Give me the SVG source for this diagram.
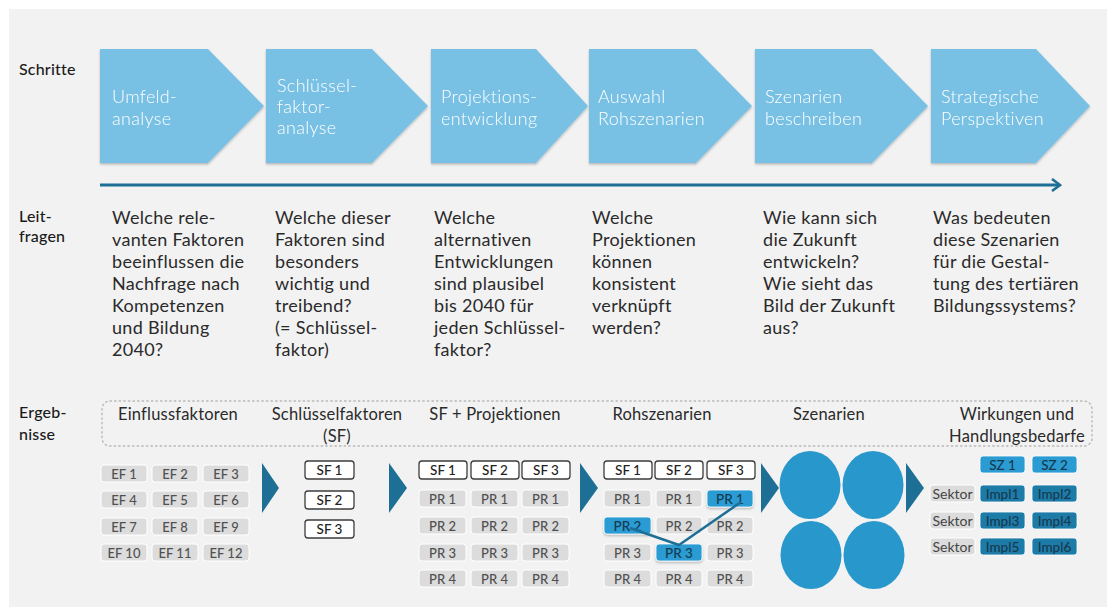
<svg xmlns="http://www.w3.org/2000/svg" width="1107" height="608" viewBox="0 0 1107 608">
<defs>
<style>
.lbl{font-family:Lato,"Noto Sans","DejaVu Sans",sans-serif;font-size:16px;fill:#1a1a1a;font-weight:500;letter-spacing:0.2px}
.chev{fill:#79c1e4}
.ct{font-family:Lato,"Noto Sans","DejaVu Sans",sans-serif;font-size:18px;fill:#ffffff;font-weight:300;letter-spacing:0.3px}
.q{font-family:Lato,"Noto Sans","DejaVu Sans",sans-serif;font-size:18px;fill:#2a2a2a;letter-spacing:0.3px}
.hd{font-family:Lato,"Noto Sans","DejaVu Sans",sans-serif;font-size:16.5px;fill:#2a2a2a;text-anchor:middle;letter-spacing:0.2px}
.g{fill:#dcdcdc;stroke:#ffffff;stroke-width:1}
.w{fill:#ffffff;stroke:#3c3c3c;stroke-width:1.3}
.b{fill:#2a9bd3;stroke:#ffffff;stroke-width:0.8}
.d{fill:#1d7ba8;stroke:#ffffff;stroke-width:0.8}
.bt{font-family:Lato,"Noto Sans","DejaVu Sans",sans-serif;font-size:13px;fill:#505050;text-anchor:middle;font-weight:500}
.wt{font-family:Lato,"Noto Sans","DejaVu Sans",sans-serif;font-size:13.5px;fill:#222222;text-anchor:middle;font-weight:500}
.st{font-family:Lato,"Noto Sans","DejaVu Sans",sans-serif;font-size:14px;fill:#444444;text-anchor:middle}
.dt{font-family:Lato,"Noto Sans","DejaVu Sans",sans-serif;font-size:13.5px;fill:#163a4e;text-anchor:middle;font-weight:500}
.tri{fill:#1e6f95}
.circ{fill:#2897cc}
</style>
<filter id="sh" x="-10%" y="-10%" width="130%" height="140%">
<feDropShadow dx="0" dy="1.5" stdDeviation="1.2" flood-color="#000" flood-opacity="0.25"/>
</filter>
<marker id="ah" markerWidth="12" markerHeight="14" refX="10" refY="7" orient="auto" markerUnits="userSpaceOnUse">
<path d="M2,1 L10,7 L2,13" fill="none" stroke="#1e6f95" stroke-width="2.6"/>
</marker>
</defs>

<rect x="0" y="0" width="1107" height="608" fill="#ffffff"/>
<rect x="9" y="9" width="1098" height="598" fill="#f2f2f2"/>

<g id="labels">
<text class="lbl" x="19" y="75">Schritte</text>
<text class="lbl" x="19" y="222">Leit-</text>
<text class="lbl" x="19" y="242">fragen</text>
<text class="lbl" x="19" y="418">Ergeb-</text>
<text class="lbl" x="19" y="440">nisse</text>
</g>

<g id="steps" filter="url(#sh)">
<g id="step1"><polygon class="chev" points="100,49 208,49 264,106 208,163 100,163"/>
<text class="ct" x="112" y="103">Umfeld-</text><text class="ct" x="112" y="125">analyse</text></g>
<g id="step2"><polygon class="chev" points="266,49 372,49 428,106 372,163 266,163"/>
<text class="ct" x="277" y="92">Schlüssel-</text><text class="ct" x="277" y="113">faktor-</text><text class="ct" x="277" y="134">analyse</text></g>
<g id="step3"><polygon class="chev" points="431,49 536,49 588,106 536,163 431,163"/>
<text class="ct" x="441" y="103">Projektions-</text><text class="ct" x="441" y="125">entwicklung</text></g>
<g id="step4"><polygon class="chev" points="589,49 696,49 752,106 696,163 589,163"/>
<text class="ct" x="598" y="103">Auswahl</text><text class="ct" x="598" y="125">Rohszenarien</text></g>
<g id="step5"><polygon class="chev" points="755,49 872,49 928,106 872,163 755,163"/>
<text class="ct" x="765" y="103">Szenarien</text><text class="ct" x="765" y="125">beschreiben</text></g>
<g id="step6"><polygon class="chev" points="931,49 1036,49 1090,106 1036,163 931,163"/>
<text class="ct" x="941" y="103">Strategische</text><text class="ct" x="941" y="125">Perspektiven</text></g>
</g>

<g id="questions">
<text class="q" x="112" y="224">Welche rele-</text>
<text class="q" x="112" y="246">vanten Faktoren</text>
<text class="q" x="112" y="268">beeinflussen die</text>
<text class="q" x="112" y="290">Nachfrage nach</text>
<text class="q" x="112" y="312">Kompetenzen</text>
<text class="q" x="112" y="334">und Bildung</text>
<text class="q" x="112" y="356">2040?</text>

<text class="q" x="275" y="224">Welche dieser</text>
<text class="q" x="275" y="246">Faktoren sind</text>
<text class="q" x="275" y="268">besonders</text>
<text class="q" x="275" y="290">wichtig und</text>
<text class="q" x="275" y="312">treibend?</text>
<text class="q" x="275" y="334">(= Schlüssel-</text>
<text class="q" x="275" y="356">faktor)</text>

<text class="q" x="434" y="224">Welche</text>
<text class="q" x="434" y="246">alternativen</text>
<text class="q" x="434" y="268">Entwicklungen</text>
<text class="q" x="434" y="290">sind plausibel</text>
<text class="q" x="434" y="312">bis 2040 für</text>
<text class="q" x="434" y="334">jeden Schlüssel-</text>
<text class="q" x="434" y="356">faktor?</text>

<text class="q" x="592" y="224">Welche</text>
<text class="q" x="592" y="246">Projektionen</text>
<text class="q" x="592" y="268">können</text>
<text class="q" x="592" y="290">konsistent</text>
<text class="q" x="592" y="312">verknüpft</text>
<text class="q" x="592" y="334">werden?</text>

<text class="q" x="763" y="224">Wie kann sich</text>
<text class="q" x="763" y="246">die Zukunft</text>
<text class="q" x="763" y="268">entwickeln?</text>
<text class="q" x="763" y="290">Wie sieht das</text>
<text class="q" x="763" y="312">Bild der Zukunft</text>
<text class="q" x="763" y="334">aus?</text>

<text class="q" x="933" y="224">Was bedeuten</text>
<text class="q" x="933" y="246">diese Szenarien</text>
<text class="q" x="933" y="268">für die Gestal-</text>
<text class="q" x="933" y="290">tung des tertiären</text>
<text class="q" x="933" y="312">Bildungssystems?</text>
</g>

<g id="result-headers">
<rect x="102" y="401" width="990" height="45" rx="8" fill="none" stroke="#b8b8b8" stroke-width="1.4" stroke-dasharray="1.4 3.2" stroke-linecap="round"/>
<text class="hd" x="178" y="420">Einflussfaktoren</text>
<text class="hd" x="337" y="420">Schlüsselfaktoren</text>
<text class="hd" x="337" y="442">(SF)</text>
<text class="hd" x="495" y="420">SF + Projektionen</text>
<text class="hd" x="662" y="420">Rohszenarien</text>
<text class="hd" x="829" y="420">Szenarien</text>
<text class="hd" x="1017" y="420">Wirkungen und</text>
<text class="hd" x="1017" y="442">Handlungsbedarfe</text>
</g>

<g id="einflussfaktoren">
<rect class="g" x="101" y="465" width="46" height="17" rx="3"/><text class="bt" x="124" y="478.5">EF 1</text>
<rect class="g" x="152" y="465" width="46" height="17" rx="3"/><text class="bt" x="175" y="478.5">EF 2</text>
<rect class="g" x="203" y="465" width="46" height="17" rx="3"/><text class="bt" x="226" y="478.5">EF 3</text>
<rect class="g" x="101" y="491" width="46" height="17" rx="3"/><text class="bt" x="124" y="504.5">EF 4</text>
<rect class="g" x="152" y="491" width="46" height="17" rx="3"/><text class="bt" x="175" y="504.5">EF 5</text>
<rect class="g" x="203" y="491" width="46" height="17" rx="3"/><text class="bt" x="226" y="504.5">EF 6</text>
<rect class="g" x="101" y="518" width="46" height="17" rx="3"/><text class="bt" x="124" y="531.5">EF 7</text>
<rect class="g" x="152" y="518" width="46" height="17" rx="3"/><text class="bt" x="175" y="531.5">EF 8</text>
<rect class="g" x="203" y="518" width="46" height="17" rx="3"/><text class="bt" x="226" y="531.5">EF 9</text>
<rect class="g" x="101" y="544" width="46" height="17" rx="3"/><text class="bt" x="124" y="557.5">EF 10</text>
<rect class="g" x="152" y="544" width="46" height="17" rx="3"/><text class="bt" x="175" y="557.5">EF 11</text>
<rect class="g" x="203" y="544" width="46" height="17" rx="3"/><text class="bt" x="226" y="557.5">EF 12</text>
</g>

<g id="schluesselfaktoren">
<rect class="w" x="305" y="461" width="49" height="18" rx="3"/><text class="wt" x="329.5" y="475">SF 1</text>
<rect class="w" x="305" y="491" width="49" height="18" rx="3"/><text class="wt" x="329.5" y="505">SF 2</text>
<rect class="w" x="305" y="520" width="49" height="18" rx="3"/><text class="wt" x="329.5" y="534">SF 3</text>
</g>

<g id="sf-projektionen">
<rect class="w" x="419" y="461" width="48" height="18" rx="3"/><text class="wt" x="443" y="475">SF 1</text>
<rect class="w" x="471" y="461" width="48" height="18" rx="3"/><text class="wt" x="495" y="475">SF 2</text>
<rect class="w" x="522" y="461" width="48" height="18" rx="3"/><text class="wt" x="546" y="475">SF 3</text>
<rect class="g" x="419" y="490" width="47" height="17" rx="3"/><text class="bt" x="442.5" y="503.5">PR 1</text>
<rect class="g" x="471" y="490" width="47" height="17" rx="3"/><text class="bt" x="494.5" y="503.5">PR 1</text>
<rect class="g" x="522" y="490" width="47" height="17" rx="3"/><text class="bt" x="545.5" y="503.5">PR 1</text>
<rect class="g" x="419" y="517" width="47" height="17" rx="3"/><text class="bt" x="442.5" y="530.5">PR 2</text>
<rect class="g" x="471" y="517" width="47" height="17" rx="3"/><text class="bt" x="494.5" y="530.5">PR 2</text>
<rect class="g" x="522" y="517" width="47" height="17" rx="3"/><text class="bt" x="545.5" y="530.5">PR 2</text>
<rect class="g" x="419" y="544" width="47" height="17" rx="3"/><text class="bt" x="442.5" y="557.5">PR 3</text>
<rect class="g" x="471" y="544" width="47" height="17" rx="3"/><text class="bt" x="494.5" y="557.5">PR 3</text>
<rect class="g" x="522" y="544" width="47" height="17" rx="3"/><text class="bt" x="545.5" y="557.5">PR 3</text>
<rect class="g" x="419" y="570" width="47" height="17" rx="3"/><text class="bt" x="442.5" y="583.5">PR 4</text>
<rect class="g" x="471" y="570" width="47" height="17" rx="3"/><text class="bt" x="494.5" y="583.5">PR 4</text>
<rect class="g" x="522" y="570" width="47" height="17" rx="3"/><text class="bt" x="545.5" y="583.5">PR 4</text>
</g>

<g id="rohszenarien">
<rect class="w" x="604" y="461" width="48" height="18" rx="3"/><text class="wt" x="628" y="475">SF 1</text>
<rect class="w" x="655" y="461" width="48" height="18" rx="3"/><text class="wt" x="679" y="475">SF 2</text>
<rect class="w" x="707" y="461" width="48" height="18" rx="3"/><text class="wt" x="731" y="475">SF 3</text>
<rect class="g" x="604" y="490" width="47" height="17" rx="3"/><text class="bt" x="627.5" y="503.5">PR 1</text>
<rect class="g" x="656" y="490" width="46" height="17" rx="3"/><text class="bt" x="679" y="503.5">PR 1</text>
<rect class="b" x="707" y="490" width="46" height="17" rx="3" filter="url(#sh)"/><text class="dt" x="730" y="503.5">PR 1</text>
<rect class="b" x="604" y="517" width="47" height="17" rx="3" filter="url(#sh)"/><text class="dt" x="627.5" y="530.5">PR 2</text>
<rect class="g" x="656" y="517" width="46" height="17" rx="3"/><text class="bt" x="679" y="530.5">PR 2</text>
<rect class="g" x="707" y="517" width="46" height="17" rx="3"/><text class="bt" x="730" y="530.5">PR 2</text>
<rect class="g" x="604" y="544" width="47" height="17" rx="3"/><text class="bt" x="627.5" y="557.5">PR 3</text>
<rect class="b" x="656" y="544" width="46" height="17" rx="3" filter="url(#sh)"/><text class="dt" x="679" y="557.5">PR 3</text>
<rect class="g" x="707" y="544" width="46" height="17" rx="3"/><text class="bt" x="730" y="557.5">PR 3</text>
<rect class="g" x="604" y="570" width="47" height="17" rx="3"/><text class="bt" x="627.5" y="583.5">PR 4</text>
<rect class="g" x="656" y="570" width="46" height="17" rx="3"/><text class="bt" x="679" y="583.5">PR 4</text>
<rect class="g" x="707" y="570" width="46" height="17" rx="3"/><text class="bt" x="730" y="583.5">PR 4</text>
</g>

<g id="szenarien">
<ellipse class="circ" cx="810" cy="485" rx="30.5" ry="34"/>
<ellipse class="circ" cx="873" cy="485" rx="30.5" ry="34"/>
<ellipse class="circ" cx="811" cy="555" rx="30.5" ry="34"/>
<ellipse class="circ" cx="874" cy="555" rx="30.5" ry="34"/>
</g>

<g id="wirkungen">
<rect class="b" x="980" y="456" width="45" height="17" rx="3"/><text class="dt" x="1002.5" y="469.5">SZ 1</text>
<rect class="b" x="1032" y="456" width="45" height="17" rx="3"/><text class="dt" x="1054.5" y="469.5">SZ 2</text>
<rect class="g" x="930" y="485" width="45" height="17" rx="3"/><text class="st" x="952.5" y="498.5">Sektor</text>
<rect class="d" x="980" y="485" width="45" height="17" rx="3"/><text class="dt" x="1002.5" y="498.5">Impl1</text>
<rect class="d" x="1032" y="485" width="45" height="17" rx="3"/><text class="dt" x="1054.5" y="498.5">Impl2</text>
<rect class="g" x="930" y="512" width="45" height="17" rx="3"/><text class="st" x="952.5" y="525.5">Sektor</text>
<rect class="d" x="980" y="512" width="45" height="17" rx="3"/><text class="dt" x="1002.5" y="525.5">Impl3</text>
<rect class="d" x="1032" y="512" width="45" height="17" rx="3"/><text class="dt" x="1054.5" y="525.5">Impl4</text>
<rect class="g" x="930" y="538" width="45" height="17" rx="3"/><text class="st" x="952.5" y="551.5">Sektor</text>
<rect class="d" x="980" y="538" width="45" height="17" rx="3"/><text class="dt" x="1002.5" y="551.5">Impl5</text>
<rect class="d" x="1032" y="538" width="45" height="17" rx="3"/><text class="dt" x="1054.5" y="551.5">Impl6</text>
</g>

<g id="connectors">
<line x1="100" y1="185" x2="1060" y2="185" stroke="#1e6f95" stroke-width="3" marker-end="url(#ah)"/>
<polygon class="tri" points="262,463 279,488 262,513"/>
<polygon class="tri" points="389,463 407,488 389,513"/>
<polygon class="tri" points="580,463 598,488 580,513"/>
<polygon class="tri" points="761,463 779,488 761,513"/>
<polygon class="tri" points="906,463 924,488 906,513"/>
<polyline points="630,528 679,545 741,502" fill="none" stroke="#1e6f95" stroke-width="2.5" stroke-linejoin="round"/>
</g>
</svg>
